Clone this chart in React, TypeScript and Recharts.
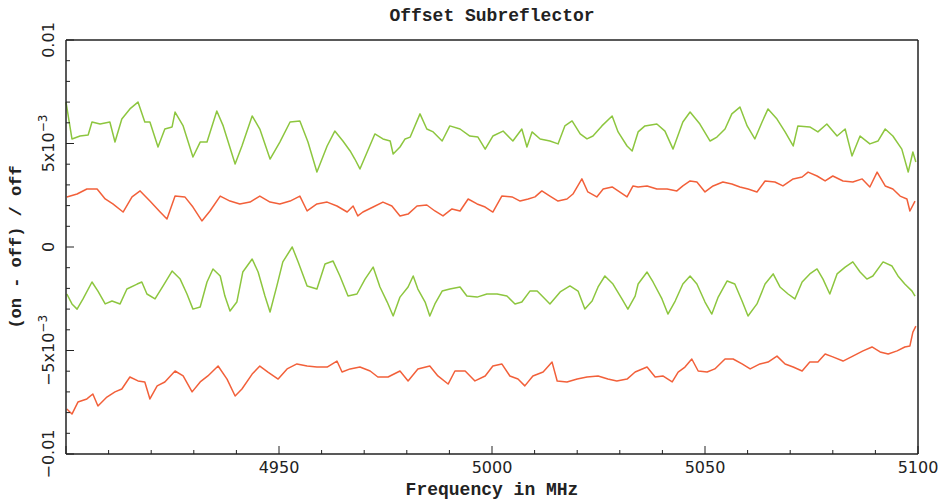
import { LineChart, Line, XAxis, YAxis } from 'recharts';

// values in units of 1e-3
const greenHiFreq = [4900.0, 4901.4, 4903.3, 4905.2, 4906.1, 4908.0, 4910.3, 4911.5, 4913.1, 4915.0, 4916.9, 4918.5, 4919.7, 4921.6, 4923.2, 4924.9, 4925.6, 4927.5, 4929.8, 4931.5, 4933.1, 4935.4, 4936.9, 4939.7, 4941.3, 4943.7, 4945.5, 4947.9, 4950.2, 4952.6, 4954.9, 4956.8, 4958.9, 4961.3, 4963.1, 4965.0, 4966.7, 4967.8, 4969.0, 4970.7, 4972.5, 4974.4, 4976.1, 4976.8, 4978.4, 4979.6, 4980.8, 4983.1, 4984.7, 4986.2, 4988.3, 4990.1, 4992.5, 4994.8, 4996.7, 4998.4, 5000.2, 5002.6, 5004.9, 5007.0, 5008.2, 5009.4, 5011.3, 5013.6, 5015.5, 5017.1, 5018.8, 5020.7, 5022.3, 5023.7, 5025.8, 5028.2, 5029.6, 5031.7, 5032.9, 5034.3, 5035.9, 5038.7, 5040.6, 5042.5, 5044.8, 5046.5, 5048.8, 5051.2, 5052.8, 5054.7, 5056.3, 5058.2, 5059.9, 5061.7, 5063.4, 5064.8, 5066.9, 5068.8, 5070.7, 5071.8, 5074.6, 5076.5, 5078.6, 5081.0, 5082.9, 5084.5, 5086.4, 5088.7, 5090.6, 5092.3, 5094.1, 5096.2, 5097.7, 5098.8, 5099.5];
const greenHi = [7.0, 5.22, 5.36, 5.41, 6.04, 5.94, 6.04, 5.07, 6.18, 6.67, 7.0, 6.04, 6.04, 4.83, 5.7, 5.8, 6.52, 5.85, 4.35, 5.07, 5.07, 6.57, 5.85, 4.01, 4.88, 6.33, 5.7, 4.25, 5.07, 6.04, 6.09, 5.07, 3.62, 4.88, 5.6, 5.12, 4.64, 4.25, 3.77, 4.59, 5.46, 5.22, 5.12, 4.49, 4.83, 5.22, 5.31, 6.43, 5.7, 5.56, 5.12, 5.85, 5.7, 5.36, 5.31, 4.73, 5.36, 5.6, 5.12, 5.7, 4.83, 5.56, 5.22, 5.12, 4.98, 5.85, 6.09, 5.46, 5.22, 5.36, 5.85, 6.33, 5.56, 4.88, 4.64, 5.56, 5.85, 5.94, 5.6, 4.73, 6.04, 6.52, 5.94, 5.12, 5.31, 5.7, 6.43, 6.76, 5.85, 5.22, 6.04, 6.67, 6.18, 5.56, 4.88, 5.85, 5.8, 5.56, 5.94, 5.36, 5.7, 4.4, 5.36, 4.98, 5.12, 5.7, 5.36, 4.73, 3.62, 4.59, 4.11];

const redHiFreq = [4900.2, 4902.6, 4904.9, 4907.3, 4909.2, 4911.0, 4913.4, 4915.5, 4917.4, 4919.7, 4922.1, 4923.7, 4925.6, 4927.9, 4929.8, 4931.9, 4933.8, 4936.2, 4938.5, 4940.8, 4943.2, 4945.5, 4947.9, 4950.2, 4952.6, 4954.9, 4956.6, 4958.9, 4961.3, 4963.6, 4966.0, 4967.4, 4968.5, 4969.7, 4972.1, 4974.4, 4976.5, 4978.4, 4980.3, 4982.4, 4984.7, 4986.6, 4988.5, 4990.6, 4992.5, 4994.4, 4996.5, 4998.4, 5000.2, 5002.3, 5004.7, 5006.6, 5008.5, 5010.1, 5011.7, 5013.6, 5015.5, 5017.6, 5019.0, 5021.1, 5022.5, 5024.6, 5026.1, 5028.2, 5029.6, 5031.7, 5033.1, 5034.3, 5036.4, 5038.7, 5041.1, 5043.4, 5044.8, 5046.5, 5048.1, 5050.0, 5051.9, 5054.2, 5056.3, 5058.2, 5060.1, 5062.2, 5064.1, 5066.4, 5068.3, 5070.7, 5072.8, 5074.2, 5076.3, 5078.2, 5080.0, 5082.4, 5084.7, 5086.9, 5088.7, 5090.4, 5092.3, 5094.1, 5095.8, 5097.4, 5098.1, 5099.3];
const redHi = [2.42, 2.56, 2.8, 2.8, 2.32, 2.08, 1.69, 2.42, 2.71, 2.22, 1.69, 1.35, 2.46, 2.42, 1.93, 1.26, 1.74, 2.46, 2.22, 2.08, 2.17, 2.46, 2.17, 2.08, 2.22, 2.46, 1.74, 2.08, 2.17, 1.98, 1.69, 1.98, 1.5, 1.69, 1.93, 2.17, 1.98, 1.5, 1.59, 1.98, 2.03, 1.74, 1.5, 1.84, 1.74, 2.32, 2.08, 1.93, 1.69, 2.46, 2.42, 2.22, 2.32, 2.42, 2.71, 2.46, 2.22, 2.32, 2.56, 3.29, 2.66, 2.42, 2.8, 2.9, 2.71, 2.42, 2.95, 2.9, 2.95, 2.8, 2.8, 2.71, 2.95, 3.19, 3.14, 2.66, 2.95, 3.14, 3.04, 2.9, 2.8, 2.66, 3.19, 3.14, 2.95, 3.29, 3.38, 3.62, 3.43, 3.19, 3.43, 3.19, 3.14, 3.29, 2.9, 3.62, 2.95, 2.8, 2.46, 2.32, 1.74, 2.22];

const greenLoFreq = [4900.2, 4901.4, 4902.6, 4904.0, 4906.1, 4907.5, 4909.2, 4910.8, 4912.7, 4914.3, 4916.7, 4917.8, 4919.0, 4920.9, 4922.8, 4924.9, 4926.8, 4928.4, 4929.8, 4931.5, 4933.1, 4934.5, 4936.2, 4937.3, 4938.5, 4940.1, 4941.5, 4943.7, 4945.1, 4946.7, 4947.9, 4949.5, 4950.9, 4953.1, 4954.5, 4956.6, 4958.9, 4960.8, 4962.7, 4964.3, 4966.2, 4968.3, 4970.2, 4972.1, 4973.7, 4975.4, 4976.8, 4978.4, 4980.3, 4981.5, 4982.6, 4984.3, 4985.4, 4986.6, 4988.3, 4990.1, 4992.5, 4994.1, 4996.5, 4998.8, 5001.2, 5003.5, 5005.4, 5007.0, 5008.9, 5010.6, 5012.0, 5013.6, 5016.0, 5018.3, 5020.2, 5021.8, 5023.5, 5024.9, 5026.5, 5028.4, 5030.5, 5031.9, 5033.6, 5034.3, 5036.4, 5037.8, 5039.9, 5041.3, 5043.0, 5044.8, 5046.5, 5048.1, 5050.0, 5051.6, 5053.1, 5055.2, 5057.0, 5058.7, 5060.1, 5062.2, 5064.1, 5066.0, 5067.6, 5069.5, 5071.1, 5072.8, 5074.6, 5076.3, 5077.7, 5079.3, 5081.0, 5082.9, 5084.7, 5086.4, 5088.0, 5089.4, 5091.8, 5093.9, 5095.3, 5096.9, 5098.6, 5099.3];
const greenLo = [-2.27, -2.75, -3.0, -2.51, -1.69, -2.13, -2.75, -2.61, -2.75, -2.03, -1.79, -1.69, -2.27, -2.51, -1.88, -1.16, -1.55, -2.27, -3.0, -2.9, -1.69, -1.06, -1.4, -2.37, -3.09, -2.66, -1.21, -0.58, -1.21, -2.37, -3.14, -1.88, -0.72, 0.0, -0.72, -1.88, -2.03, -0.82, -0.68, -1.4, -2.37, -2.27, -1.55, -0.97, -1.93, -2.66, -3.33, -2.42, -1.93, -1.4, -2.03, -2.66, -3.33, -2.75, -2.13, -2.03, -1.93, -2.37, -2.42, -2.27, -2.27, -2.37, -2.75, -2.66, -2.13, -2.13, -2.42, -2.75, -2.17, -1.88, -2.13, -3.0, -2.61, -1.93, -1.4, -1.79, -2.51, -3.0, -2.37, -1.79, -1.21, -1.69, -2.51, -3.24, -2.61, -1.79, -1.4, -1.79, -2.66, -3.24, -2.42, -1.64, -1.79, -2.61, -3.33, -2.75, -1.79, -1.3, -1.93, -2.27, -2.51, -1.69, -1.3, -1.06, -1.55, -2.27, -1.3, -0.97, -0.72, -1.21, -1.55, -1.4, -0.72, -0.92, -1.4, -1.79, -2.13, -2.37];

const redLoFreq = [4900.2, 4901.4, 4902.8, 4904.9, 4906.3, 4907.5, 4909.6, 4911.5, 4913.1, 4915.0, 4916.9, 4918.5, 4919.7, 4921.4, 4923.2, 4925.6, 4927.5, 4929.6, 4931.5, 4933.3, 4935.7, 4937.8, 4939.7, 4941.3, 4943.7, 4945.5, 4947.4, 4949.8, 4951.9, 4954.2, 4956.6, 4958.9, 4961.3, 4963.6, 4964.8, 4966.7, 4969.0, 4971.4, 4973.2, 4975.6, 4978.4, 4980.3, 4982.6, 4985.4, 4987.3, 4989.7, 4991.3, 4993.7, 4996.0, 4998.4, 5000.2, 5002.3, 5004.2, 5006.1, 5007.7, 5009.6, 5012.0, 5014.1, 5015.3, 5017.6, 5020.0, 5022.3, 5024.9, 5027.2, 5029.3, 5031.7, 5033.6, 5036.4, 5038.3, 5040.1, 5042.3, 5043.7, 5045.3, 5046.9, 5048.4, 5050.5, 5052.3, 5054.7, 5056.6, 5058.7, 5060.6, 5062.9, 5064.8, 5066.9, 5068.8, 5070.7, 5072.8, 5074.6, 5076.5, 5078.2, 5080.0, 5082.4, 5084.7, 5087.1, 5089.2, 5091.1, 5093.0, 5095.1, 5096.9, 5098.1, 5098.8, 5099.5];
const redLo = [-7.83, -8.07, -7.49, -7.34, -7.1, -7.68, -7.25, -7.0, -6.86, -6.28, -6.47, -6.52, -7.34, -6.71, -6.52, -5.99, -6.23, -7.0, -6.52, -6.23, -5.75, -6.38, -7.2, -6.86, -6.14, -5.75, -6.04, -6.38, -5.89, -5.65, -5.75, -5.8, -5.8, -5.51, -6.04, -5.89, -5.8, -5.99, -6.28, -6.28, -5.99, -6.47, -5.89, -5.75, -6.23, -6.62, -5.99, -5.99, -6.47, -6.23, -5.75, -5.65, -6.23, -6.38, -6.71, -6.23, -6.04, -5.56, -6.47, -6.52, -6.38, -6.28, -6.23, -6.38, -6.47, -6.38, -6.04, -5.8, -6.28, -6.23, -6.52, -6.04, -5.8, -5.41, -5.99, -6.04, -5.89, -5.41, -5.41, -5.65, -5.89, -5.65, -5.56, -5.27, -5.65, -5.8, -5.99, -5.56, -5.56, -5.17, -5.31, -5.51, -5.27, -5.02, -4.83, -5.07, -5.17, -5.02, -4.83, -4.78, -4.11, -3.82];

const xTicks = [4900, 4910, 4920, 4930, 4940, 4950, 4960, 4970, 4980, 4990, 5000, 5010, 5020, 5030, 5040, 5050, 5060, 5070, 5080, 5090, 5100];
const xLabels = [4950, 5000, 5050, 5100];
const yTicks = [-10, -9, -8, -7, -6, -5, -4, -3, -2, -1, 0, 1, 2, 3, 4, 5, 6, 7, 8, 9, 10];

const GREEN = '#8dc63f';
const RED = '#f2603a';
const INK = '#222';
const MONO = '"Liberation Mono", "DejaVu Sans Mono", monospace';
const SANS = '"DejaVu Sans", sans-serif';

const zip = (f: number[], v: number[]) => f.map((x, i) => ({ f: x, v: v[i] }));

function BottomTick({ x, y, payload }: any) {
  const major = payload.value % 50 === 0;
  return (
    <g>
      <line x1={x} x2={x} y1={y} y2={y - (major ? 8 : 4)} stroke={INK} />
      {xLabels.includes(payload.value) && (
        <text x={x} y={y + 19} textAnchor="middle" fontFamily={SANS} fontSize={16} fill={INK}>
          {payload.value}
        </text>
      )}
    </g>
  );
}

function TopTick({ x, y, payload }: any) {
  const major = payload.value % 50 === 0;
  return <line x1={x} x2={x} y1={y} y2={y + (major ? 8 : 4)} stroke={INK} />;
}

function yLabel(v: number) {
  if (v === 10) return <>0.01</>;
  if (v === -10) return <>−0.01</>;
  if (v === 0) return <>0</>;
  const sign = v < 0 ? '−' : '';
  return (
    <>
      {sign}5x10
      <tspan dy={-7} fontSize={12}>−3</tspan>
    </>
  );
}

function LeftTick({ x, y, payload }: any) {
  const major = payload.value % 5 === 0;
  const lx = x - 12;
  return (
    <g>
      <line x1={x} x2={x + (major ? 8 : 4)} y1={y} y2={y} stroke={INK} />
      {major && (
        <text
          x={lx}
          y={y}
          transform={`rotate(-90, ${lx}, ${y})`}
          textAnchor="middle"
          fontFamily={SANS}
          fontSize={16}
          fill={INK}
        >
          {yLabel(payload.value)}
        </text>
      )}
    </g>
  );
}

function RightTick({ x, y, payload }: any) {
  const major = payload.value % 5 === 0;
  return <line x1={x} x2={x - (major ? 8 : 4)} y1={y} y2={y} stroke={INK} />;
}

export default function App() {
  return (
    <div style={{ position: 'absolute', left: 0, top: 0, background: '#fff' }}>
      <LineChart width={943} height={504} margin={{ top: 10, right: 5, bottom: 6, left: 6 }}>
        <XAxis
          xAxisId="b"
          dataKey="f"
          type="number"
          domain={[4900, 5100]}
          ticks={xTicks}
          interval={0}
          height={44}
          tickSize={0}
          tickMargin={0}
          tick={<BottomTick />}
          axisLine={{ stroke: INK, strokeWidth: 1.5 }}
          label={({ viewBox }: any) => (
            <text
              x={viewBox.x + viewBox.width / 2}
              y={viewBox.y + 41}
              textAnchor="middle"
              fontFamily={MONO}
              fontWeight="bold"
              fontSize={18}
              fill={INK}
            >
              Frequency in MHz
            </text>
          )}
        />
        <XAxis
          xAxisId="t"
          orientation="top"
          dataKey="f"
          type="number"
          domain={[4900, 5100]}
          ticks={xTicks}
          interval={0}
          height={30}
          tickSize={0}
          tickMargin={0}
          tick={<TopTick />}
          axisLine={{ stroke: INK, strokeWidth: 1.5 }}
          label={({ viewBox }: any) => (
            <text
              x={viewBox.x + viewBox.width / 2}
              y={21}
              textAnchor="middle"
              fontFamily={MONO}
              fontWeight="bold"
              fontSize={18}
              fill={INK}
            >
              Offset Subreflector
            </text>
          )}
        />
        <YAxis
          yAxisId="l"
          type="number"
          domain={[-10, 10]}
          ticks={yTicks}
          interval={0}
          width={60}
          tickSize={0}
          tickMargin={0}
          tick={<LeftTick />}
          axisLine={{ stroke: INK, strokeWidth: 1.5 }}
          label={({ viewBox }: any) => {
            const cx = 21;
            const cy = viewBox.y + viewBox.height / 2;
            return (
              <text
                x={cx}
                y={cy}
                transform={`rotate(-90, ${cx}, ${cy})`}
                textAnchor="middle"
                fontFamily={MONO}
                fontWeight="bold"
                fontSize={17}
                fill={INK}
              >
                (on - off) / off
              </text>
            );
          }}
        />
        <YAxis
          yAxisId="r"
          orientation="right"
          type="number"
          domain={[-10, 10]}
          ticks={yTicks}
          interval={0}
          width={20}
          tickSize={0}
          tickMargin={0}
          tick={<RightTick />}
          axisLine={{ stroke: INK, strokeWidth: 1.5 }}
        />
        <Line xAxisId="b" yAxisId="l" data={zip(greenHiFreq, greenHi)} dataKey="v" stroke={GREEN} strokeWidth={1.5} strokeLinejoin="round" dot={false} isAnimationActive={false} />
        <Line xAxisId="b" yAxisId="l" data={zip(redHiFreq, redHi)} dataKey="v" stroke={RED} strokeWidth={1.5} strokeLinejoin="round" dot={false} isAnimationActive={false} />
        <Line xAxisId="b" yAxisId="l" data={zip(greenLoFreq, greenLo)} dataKey="v" stroke={GREEN} strokeWidth={1.5} strokeLinejoin="round" dot={false} isAnimationActive={false} />
        <Line xAxisId="b" yAxisId="l" data={zip(redLoFreq, redLo)} dataKey="v" stroke={RED} strokeWidth={1.5} strokeLinejoin="round" dot={false} isAnimationActive={false} />
      </LineChart>
    </div>
  );
}
